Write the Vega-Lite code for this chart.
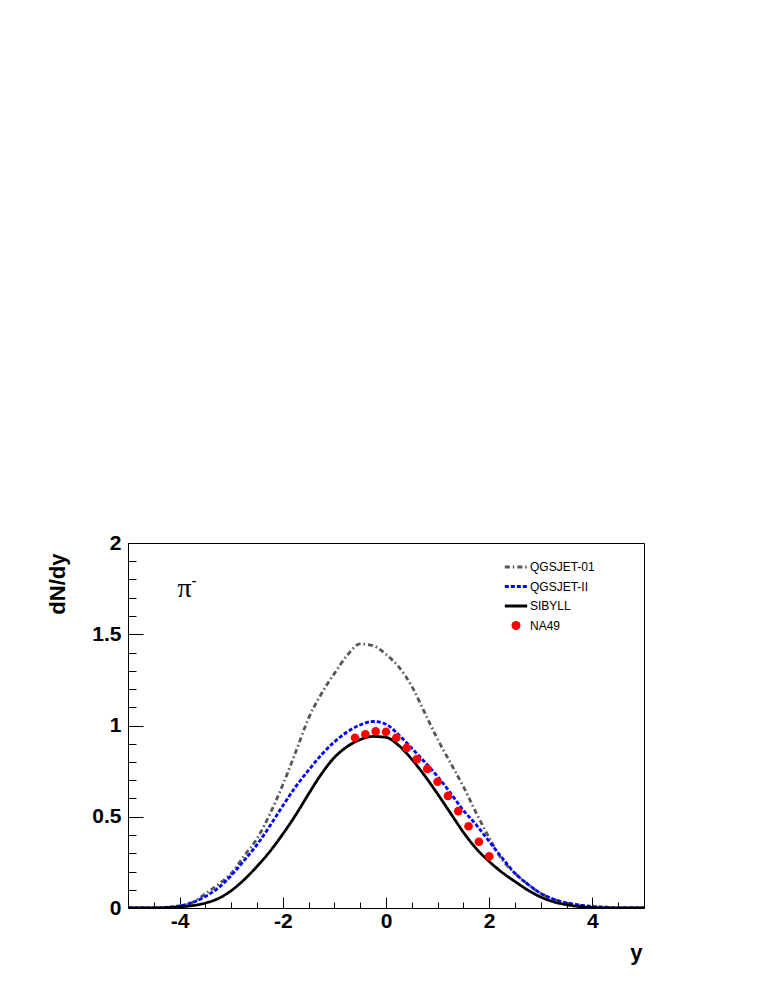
{
  "$schema": "https://vega.github.io/schema/vega-lite/v6.json",
  "width": 516,
  "height": 365,
  "autosize": {"type": "none"},
  "padding": {"left": 128, "top": 543, "right": 128, "bottom": 91},
  "background": "white",
  "config": {
    "view": {"stroke": "black", "strokeWidth": 1},
    "axis": {
      "grid": false,
      "domainColor": "black",
      "domainWidth": 1,
      "tickColor": "black",
      "tickWidth": 1,
      "labelColor": "black",
      "titleColor": "black",
      "labelFont": "Liberation Sans",
      "titleFont": "Liberation Sans",
      "labelFontWeight": "bold",
      "titleFontWeight": "bold"
    }
  },
  "datasets": {
    "curves": [
      {"series": "QGSJET-01", "x": -5, "y": 0},
      {"series": "QGSJET-01", "x": -4.5, "y": 0},
      {"series": "QGSJET-01", "x": -4.25, "y": 0.003},
      {"series": "QGSJET-01", "x": -4.0, "y": 0.01},
      {"series": "QGSJET-01", "x": -3.75, "y": 0.03},
      {"series": "QGSJET-01", "x": -3.5, "y": 0.078},
      {"series": "QGSJET-01", "x": -3.25, "y": 0.13},
      {"series": "QGSJET-01", "x": -3.0, "y": 0.19},
      {"series": "QGSJET-01", "x": -2.75, "y": 0.285},
      {"series": "QGSJET-01", "x": -2.5, "y": 0.38},
      {"series": "QGSJET-01", "x": -2.25, "y": 0.515},
      {"series": "QGSJET-01", "x": -2.0, "y": 0.675},
      {"series": "QGSJET-01", "x": -1.75, "y": 0.855},
      {"series": "QGSJET-01", "x": -1.5, "y": 1.04},
      {"series": "QGSJET-01", "x": -1.25, "y": 1.175},
      {"series": "QGSJET-01", "x": -1.0, "y": 1.285},
      {"series": "QGSJET-01", "x": -0.75, "y": 1.385},
      {"series": "QGSJET-01", "x": -0.5, "y": 1.447},
      {"series": "QGSJET-01", "x": -0.25, "y": 1.437},
      {"series": "QGSJET-01", "x": 0.0, "y": 1.39},
      {"series": "QGSJET-01", "x": 0.25, "y": 1.32},
      {"series": "QGSJET-01", "x": 0.5, "y": 1.215},
      {"series": "QGSJET-01", "x": 0.75, "y": 1.07},
      {"series": "QGSJET-01", "x": 1.0, "y": 0.925},
      {"series": "QGSJET-01", "x": 1.25, "y": 0.795},
      {"series": "QGSJET-01", "x": 1.5, "y": 0.665},
      {"series": "QGSJET-01", "x": 1.75, "y": 0.52},
      {"series": "QGSJET-01", "x": 2.0, "y": 0.385},
      {"series": "QGSJET-01", "x": 2.25, "y": 0.265},
      {"series": "QGSJET-01", "x": 2.5, "y": 0.19},
      {"series": "QGSJET-01", "x": 2.75, "y": 0.13},
      {"series": "QGSJET-01", "x": 3.0, "y": 0.08},
      {"series": "QGSJET-01", "x": 3.25, "y": 0.048},
      {"series": "QGSJET-01", "x": 3.5, "y": 0.028},
      {"series": "QGSJET-01", "x": 3.75, "y": 0.016},
      {"series": "QGSJET-01", "x": 4.0, "y": 0.008},
      {"series": "QGSJET-01", "x": 4.25, "y": 0.004},
      {"series": "QGSJET-01", "x": 4.5, "y": 0},
      {"series": "QGSJET-01", "x": 5, "y": 0},
      {"series": "QGSJET-II", "x": -5, "y": 0},
      {"series": "QGSJET-II", "x": -4.5, "y": 0},
      {"series": "QGSJET-II", "x": -4.25, "y": 0.004},
      {"series": "QGSJET-II", "x": -4.0, "y": 0.012},
      {"series": "QGSJET-II", "x": -3.75, "y": 0.03},
      {"series": "QGSJET-II", "x": -3.5, "y": 0.063},
      {"series": "QGSJET-II", "x": -3.25, "y": 0.11},
      {"series": "QGSJET-II", "x": -3.0, "y": 0.178},
      {"series": "QGSJET-II", "x": -2.75, "y": 0.26},
      {"series": "QGSJET-II", "x": -2.5, "y": 0.347},
      {"series": "QGSJET-II", "x": -2.25, "y": 0.45},
      {"series": "QGSJET-II", "x": -2.0, "y": 0.56},
      {"series": "QGSJET-II", "x": -1.75, "y": 0.665},
      {"series": "QGSJET-II", "x": -1.5, "y": 0.755},
      {"series": "QGSJET-II", "x": -1.25, "y": 0.84},
      {"series": "QGSJET-II", "x": -1.0, "y": 0.91},
      {"series": "QGSJET-II", "x": -0.75, "y": 0.965},
      {"series": "QGSJET-II", "x": -0.5, "y": 1.003},
      {"series": "QGSJET-II", "x": -0.25, "y": 1.022},
      {"series": "QGSJET-II", "x": 0.0, "y": 1.007},
      {"series": "QGSJET-II", "x": 0.25, "y": 0.948},
      {"series": "QGSJET-II", "x": 0.5, "y": 0.875},
      {"series": "QGSJET-II", "x": 0.75, "y": 0.80},
      {"series": "QGSJET-II", "x": 1.0, "y": 0.72},
      {"series": "QGSJET-II", "x": 1.25, "y": 0.63},
      {"series": "QGSJET-II", "x": 1.5, "y": 0.535},
      {"series": "QGSJET-II", "x": 1.75, "y": 0.455},
      {"series": "QGSJET-II", "x": 2.0, "y": 0.365},
      {"series": "QGSJET-II", "x": 2.25, "y": 0.275},
      {"series": "QGSJET-II", "x": 2.5, "y": 0.19},
      {"series": "QGSJET-II", "x": 2.75, "y": 0.13},
      {"series": "QGSJET-II", "x": 3.0, "y": 0.08},
      {"series": "QGSJET-II", "x": 3.25, "y": 0.048},
      {"series": "QGSJET-II", "x": 3.5, "y": 0.028},
      {"series": "QGSJET-II", "x": 3.75, "y": 0.016},
      {"series": "QGSJET-II", "x": 4.0, "y": 0.008},
      {"series": "QGSJET-II", "x": 4.25, "y": 0.004},
      {"series": "QGSJET-II", "x": 4.5, "y": 0},
      {"series": "QGSJET-II", "x": 5, "y": 0},
      {"series": "SIBYLL", "x": -5, "y": 0},
      {"series": "SIBYLL", "x": -4.5, "y": 0},
      {"series": "SIBYLL", "x": -4.25, "y": 0.002},
      {"series": "SIBYLL", "x": -4.0, "y": 0.006},
      {"series": "SIBYLL", "x": -3.75, "y": 0.013},
      {"series": "SIBYLL", "x": -3.5, "y": 0.027},
      {"series": "SIBYLL", "x": -3.25, "y": 0.052},
      {"series": "SIBYLL", "x": -3.0, "y": 0.095},
      {"series": "SIBYLL", "x": -2.75, "y": 0.155},
      {"series": "SIBYLL", "x": -2.5, "y": 0.228},
      {"series": "SIBYLL", "x": -2.25, "y": 0.31},
      {"series": "SIBYLL", "x": -2.0, "y": 0.405},
      {"series": "SIBYLL", "x": -1.75, "y": 0.51},
      {"series": "SIBYLL", "x": -1.5, "y": 0.625},
      {"series": "SIBYLL", "x": -1.25, "y": 0.735},
      {"series": "SIBYLL", "x": -1.0, "y": 0.825},
      {"series": "SIBYLL", "x": -0.75, "y": 0.885},
      {"series": "SIBYLL", "x": -0.5, "y": 0.923},
      {"series": "SIBYLL", "x": -0.25, "y": 0.94},
      {"series": "SIBYLL", "x": 0.0, "y": 0.935},
      {"series": "SIBYLL", "x": 0.25, "y": 0.89},
      {"series": "SIBYLL", "x": 0.5, "y": 0.815},
      {"series": "SIBYLL", "x": 0.75, "y": 0.725},
      {"series": "SIBYLL", "x": 1.0, "y": 0.625},
      {"series": "SIBYLL", "x": 1.25, "y": 0.52},
      {"series": "SIBYLL", "x": 1.5, "y": 0.415},
      {"series": "SIBYLL", "x": 1.75, "y": 0.325},
      {"series": "SIBYLL", "x": 2.0, "y": 0.255},
      {"series": "SIBYLL", "x": 2.25, "y": 0.195},
      {"series": "SIBYLL", "x": 2.5, "y": 0.145},
      {"series": "SIBYLL", "x": 2.75, "y": 0.098},
      {"series": "SIBYLL", "x": 3.0, "y": 0.06},
      {"series": "SIBYLL", "x": 3.25, "y": 0.034},
      {"series": "SIBYLL", "x": 3.5, "y": 0.018},
      {"series": "SIBYLL", "x": 3.75, "y": 0.008},
      {"series": "SIBYLL", "x": 4.0, "y": 0.003},
      {"series": "SIBYLL", "x": 4.5, "y": 0},
      {"series": "SIBYLL", "x": 5, "y": 0}
    ],
    "na49": [
      {"series": "NA49", "x": -0.6, "y": 0.933},
      {"series": "NA49", "x": -0.4, "y": 0.952},
      {"series": "NA49", "x": -0.2, "y": 0.968},
      {"series": "NA49", "x": 0.0, "y": 0.966},
      {"series": "NA49", "x": 0.2, "y": 0.933},
      {"series": "NA49", "x": 0.4, "y": 0.877},
      {"series": "NA49", "x": 0.6, "y": 0.816},
      {"series": "NA49", "x": 0.8, "y": 0.762},
      {"series": "NA49", "x": 1.0, "y": 0.692},
      {"series": "NA49", "x": 1.2, "y": 0.614},
      {"series": "NA49", "x": 1.4, "y": 0.531},
      {"series": "NA49", "x": 1.6, "y": 0.448},
      {"series": "NA49", "x": 1.8, "y": 0.363},
      {"series": "NA49", "x": 2.0, "y": 0.283}
    ]
  },
  "layer": [
    {
      "data": {"name": "curves"},
      "mark": {"type": "line", "strokeWidth": 2.8, "clip": true, "interpolate": "monotone"},
      "encoding": {
        "x": {
          "field": "x", "type": "quantitative",
          "scale": {"domain": [-5, 5], "nice": false, "zero": false},
          "axis": {
            "orient": "bottom", "values": [-4, -2, 0, 2, 4], "tickSize": -11,
            "labelExpr": "'' + datum.value",
            "labelFontSize": 21, "labelPadding": 13, "labelBaseline": "top",
            "title": "y", "titleFontSize": 22, "titleAnchor": "end", "titleAlign": "right",
            "titleBaseline": "alphabetic", "titleX": 514, "titleY": 51
          }
        },
        "y": {
          "field": "y", "type": "quantitative",
          "scale": {"domain": [0, 2], "nice": false},
          "axis": {
            "orient": "left", "values": [0, 0.5, 1, 1.5, 2], "tickSize": -15,
            "labelExpr": "'' + datum.value",
            "labelFontSize": 21, "labelPadding": 22, "labelBaseline": "middle",
            "title": "dN/dy", "titleFontSize": 22, "titleAngle": -90, "titleAlign": "right",
            "titleBaseline": "alphabetic", "titleX": -64, "titleY": 10
          }
        },
        "color": {
          "field": "series", "type": "nominal",
          "scale": {"domain": ["QGSJET-01", "QGSJET-II", "SIBYLL", "NA49"], "range": ["#555555", "#0000ff", "#000000", "#ff0000"]},
          "legend": {
            "title": null, "orient": "none", "legendX": 382, "legendY": 18,
            "labelFont": "Liberation Sans", "labelFontSize": 12, "labelColor": "black",
            "rowPadding": 7.5, "symbolSize": 500, "symbolStrokeWidth": 3, "labelOffset": 8,
            "labelExpr": "datum.value === 'NA49' ? '\u00a0NA49' : datum.label",
            "encode": {"symbols": {"update": {
              "shape": {"signal": "datum.value === 'NA49' ? 'circle' : 'stroke'"},
              "size": {"signal": "datum.value === 'NA49' ? 80 : 500"},
              "fill": {"signal": "datum.value === 'NA49' ? '#ff0000' : 'transparent'"},
              "strokeWidth": {"signal": "datum.value === 'NA49' ? 0 : 3"}
            }}}
          }
        },
        "strokeDash": {
          "field": "series", "type": "nominal",
          "scale": {"domain": ["QGSJET-01", "QGSJET-II", "SIBYLL", "NA49"], "range": [[5, 3, 1.5, 3], [4, 2], [1, 0], [1, 0]]},
          "legend": {
            "title": null, "orient": "none", "legendX": 382, "legendY": 18,
            "labelFont": "Liberation Sans", "labelFontSize": 12, "labelColor": "black",
            "rowPadding": 7.5, "symbolSize": 500, "symbolStrokeWidth": 3, "labelOffset": 8,
            "labelExpr": "datum.value === 'NA49' ? '\u00a0NA49' : datum.label",
            "encode": {"symbols": {"update": {
              "shape": {"signal": "datum.value === 'NA49' ? 'circle' : 'stroke'"},
              "size": {"signal": "datum.value === 'NA49' ? 80 : 500"},
              "fill": {"signal": "datum.value === 'NA49' ? '#ff0000' : 'transparent'"},
              "strokeWidth": {"signal": "datum.value === 'NA49' ? 0 : 3"}
            }}}
          }
        }
      }
    },
    {
      "data": {"name": "na49"},
      "mark": {"type": "point", "filled": true, "size": 75, "opacity": 1},
      "encoding": {
        "x": {
          "field": "x", "type": "quantitative",
          "axis": {
            "orient": "bottom", "values": [-4.5, -3.5, -3, -2.5, -1.5, -1, -0.5, 0.5, 1, 1.5, 2.5, 3, 3.5, 4.5],
            "tickSize": -6, "labels": false, "domain": false, "title": null
          }
        },
        "y": {
          "field": "y", "type": "quantitative",
          "axis": {
            "orient": "left", "values": [0.1, 0.2, 0.3, 0.4, 0.6, 0.7, 0.8, 0.9, 1.1, 1.2, 1.3, 1.4, 1.6, 1.7, 1.8, 1.9],
            "tickSize": -8, "labels": false, "domain": false, "title": null
          }
        },
        "color": {"field": "series", "type": "nominal"}
      }
    },
    {
      "data": {"values": [{"label": "π", "x": -3.905, "y": 1.704}]},
      "mark": {"type": "text", "font": "Liberation Serif, DejaVu Serif", "fontSize": 28, "align": "center", "baseline": "alphabetic", "color": "black"},
      "encoding": {
        "x": {"field": "x", "type": "quantitative", "axis": null},
        "y": {"field": "y", "type": "quantitative", "axis": null},
        "text": {"field": "label"}
      }
    },
    {
      "data": {"values": [{"label": "-", "x": -3.72, "y": 1.80}]},
      "mark": {"type": "text", "font": "Liberation Serif, DejaVu Serif", "fontSize": 15, "fontWeight": "bold", "align": "center", "baseline": "middle", "color": "black"},
      "encoding": {
        "x": {"field": "x", "type": "quantitative", "axis": null},
        "y": {"field": "y", "type": "quantitative", "axis": null},
        "text": {"field": "label"}
      }
    }
  ],
  "resolve": {"axis": {"x": "independent", "y": "independent"}}
}
